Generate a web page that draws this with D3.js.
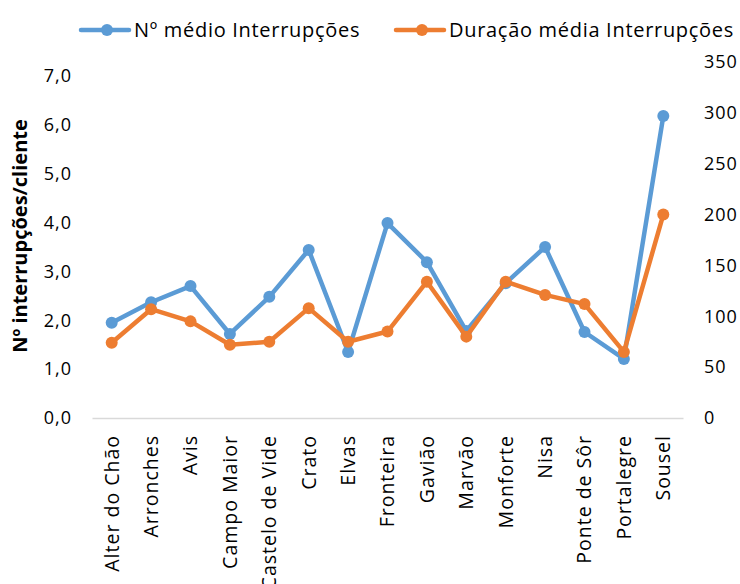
<!DOCTYPE html>
<html>
<head>
<meta charset="utf-8">
<script src="https://cdn.jsdelivr.net/npm/d3@7"></script>
<style>
  body { margin: 0; background: #fff; }
  svg { font-family: "Open Sans", sans-serif; }
</style>
</head>
<body>
<svg id="chart" width="740" height="584"></svg>
<script>
const concelhos = ['Alter do Chão', 'Arronches', 'Avis', 'Campo Maior', 'Castelo de Vide', 'Crato', 'Elvas',
  'Fronteira', 'Gavião', 'Marvão', 'Monforte', 'Nisa', 'Ponte de Sôr', 'Portalegre', 'Sousel'];
const nrMedio = [1.95, 2.37, 2.70, 1.72, 2.48, 3.44, 1.35, 3.99, 3.19, 1.78, 2.76, 3.50, 1.76, 1.21, 6.18];
const duracaoMedia = [74, 107, 95, 72, 75, 108, 75, 85, 134, 80, 134, 121, 112, 65, 200];
const leftTicks = [0, 1, 2, 3, 4, 5, 6, 7];
const rightTicks = [0, 50, 100, 150, 200, 250, 300, 350];

const blue = '#5b9bd5';
const orange = '#ed7d31';

const svg = d3.select('#chart');

const x = d3.scaleBand().domain(concelhos).range([92, 683]);
const yLeft = d3.scaleLinear().domain([0, 7]).range([418, 76]);
const yRight = d3.scaleLinear().domain([0, 350]).range([418, 62]);
const cx = d => x(d) + x.bandwidth() / 2;

// left axis
const axL = svg.append('g')
  .attr('transform', 'translate(72,0)')
  .call(d3.axisLeft(yLeft).tickValues(leftTicks).tickSize(0).tickPadding(0)
    .tickFormat(d => d3.format('.1f')(d).replace('.', ',')));
axL.select('.domain').remove();
axL.selectAll('text').attr('font-size', 18).attr('fill', '#000')
  .attr('font-family', '"Open Sans", sans-serif').attr('letter-spacing', 1);

// right axis
const axR = svg.append('g')
  .attr('transform', 'translate(704,0)')
  .call(d3.axisRight(yRight).tickValues(rightTicks).tickSize(0).tickPadding(0));
axR.select('.domain').remove();
axR.selectAll('text').attr('font-size', 18).attr('fill', '#000')
  .attr('font-family', '"Open Sans", sans-serif').attr('letter-spacing', 1);

// x axis line + labels
const axX = svg.append('g')
  .attr('transform', 'translate(0,418)')
  .call(d3.axisBottom(x).tickSize(0).tickPadding(0));
axX.select('.domain').attr('stroke', '#d9d9d9').attr('stroke-width', 1.5);
axX.selectAll('text')
  .attr('font-size', 19.5).attr('fill', '#000')
  .attr('font-family', '"Open Sans", sans-serif').attr('letter-spacing', 1)
  .attr('text-anchor', 'end')
  .attr('dy', '0.35em')
  .attr('transform', 'translate(0,17) rotate(-90)');

// y title
svg.append('text')
  .attr('transform', 'translate(20,236) rotate(-90)')
  .attr('text-anchor', 'middle')
  .attr('dy', '0.35em')
  .attr('font-size', 20).attr('font-weight', 'bold')
  .text('Nº interrupções/cliente');

function drawSeries(values, scale, color) {
  const line = d3.line().x((d, i) => cx(concelhos[i])).y(d => scale(d));
  svg.append('path').datum(values)
    .attr('fill', 'none').attr('stroke', color).attr('stroke-width', 4.5)
    .attr('stroke-linejoin', 'round').attr('d', line);
  svg.append('g').selectAll('circle').data(values).join('circle')
    .attr('cx', (d, i) => cx(concelhos[i])).attr('cy', d => scale(d))
    .attr('r', 6).attr('fill', color);
}
drawSeries(nrMedio, yLeft, blue);
drawSeries(duracaoMedia, yRight, orange);

// legend
const legendItems = [
  { label: 'Nº médio Interrupções', color: blue, x: 81 },
  { label: 'Duração média Interrupções', color: orange, x: 396 }
];
const lg = svg.append('g').selectAll('g').data(legendItems).join('g')
  .attr('transform', d => `translate(${d.x},30)`);
lg.append('line').attr('x1', 0).attr('x2', 48).attr('stroke', d => d.color)
  .attr('stroke-width', 4.5).attr('stroke-linecap', 'round');
lg.append('circle').attr('cx', 26).attr('r', 6).attr('fill', d => d.color);
lg.append('text').attr('x', 53).attr('dy', '0.35em')
  .attr('font-size', 20).attr('letter-spacing', 0.7)
  .text(d => d.label);
</script>
</body>
</html>
